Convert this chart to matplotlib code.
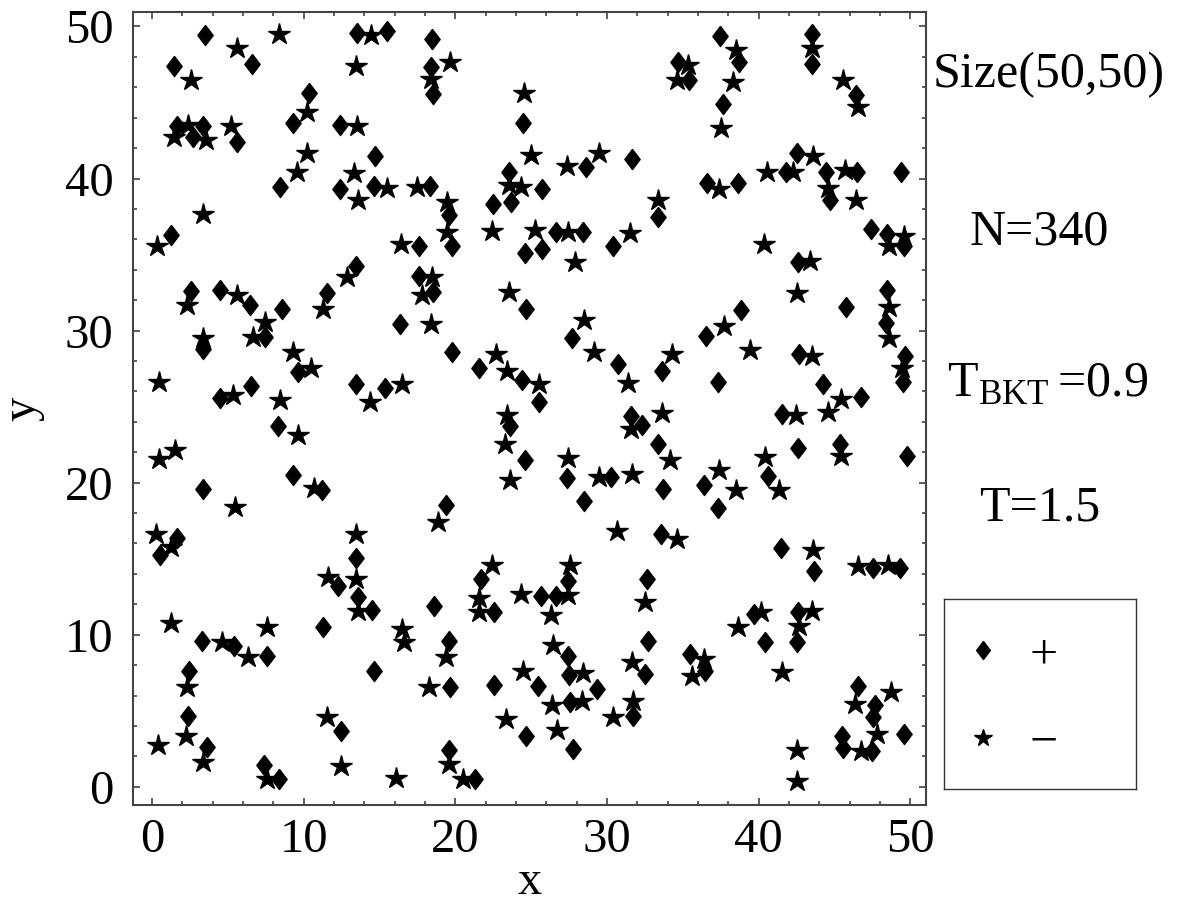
import numpy as np
import matplotlib
matplotlib.use("Agg")
import matplotlib.pyplot as plt
from matplotlib.ticker import MultipleLocator

plt.rcParams['font.family'] = ['Liberation Serif', 'DejaVu Serif']
plt.rcParams['mathtext.fontset'] = 'custom'
plt.rcParams['mathtext.rm'] = 'Liberation Serif'

# positive vortices (diamonds)
plus_x = [3.51, 1.43, 6.63, 10.39, 1.65, 3.36, 2.70, 5.60, 9.27, 12.41,
          14.72, 8.46, 12.41, 14.65, 1.25, 13.47, 13.51, 15.53, 18.46, 18.39,
          18.52, 24.50, 23.57, 28.63, 31.64, 18.35, 25.75, 22.52, 23.66, 19.62,
          19.78, 17.64, 26.65, 28.45, 24.61, 25.75, 30.43, 17.60, 33.35, 37.46,
          43.55, 43.55, 34.71, 35.44, 38.71, 37.68, 46.43, 42.52, 41.81, 44.43,
          46.51, 49.37, 44.71, 36.58, 38.67, 47.39, 48.49, 49.59, 42.58, 2.59,
          4.46, 6.48, 8.57, 3.36, 7.47, 11.54, 9.62, 6.53, 4.50, 8.31,
          9.29, 3.40, 11.20, 13.47, 15.38, 16.37, 18.52, 24.67, 19.78, 21.60,
          24.43, 25.55, 27.69, 30.72, 23.62, 24.61, 27.36, 30.26, 28.52, 19.40,
          31.58, 32.30, 48.49, 45.77, 48.41, 38.83, 36.54, 42.69, 49.66, 49.51,
          37.35, 44.27, 46.74, 41.57, 33.40, 42.58, 45.37, 49.81, 33.68, 36.41,
          40.65, 37.31, 33.55, 33.66, 1.65, 0.55, 13.47, 12.30, 13.58, 14.54,
          11.31, 3.30, 5.43, 7.58, 2.46, 14.67, 2.41, 12.48, 3.63, 7.42,
          8.39, 21.69, 22.58, 18.63, 19.60, 19.66, 22.57, 25.49, 24.67, 25.66,
          26.63, 27.42, 27.46, 27.53, 27.57, 29.37, 27.79, 32.67, 32.69, 32.52,
          31.71, 19.60, 21.31, 41.48, 43.68, 47.57, 49.33, 39.72, 40.43, 42.58,
          42.52, 35.49, 36.47, 46.54, 47.68, 47.53, 45.52, 45.59, 47.50, 49.59]
plus_y = [49.42, 47.40, 47.50, 45.59, 43.46, 43.46, 42.70, 42.43, 43.64, 43.52,
          41.45, 39.41, 39.30, 39.51, 36.29, 34.25, 49.60, 49.68, 49.20, 47.30,
          45.54, 43.62, 40.43, 40.76, 41.27, 39.51, 39.34, 38.31, 38.46, 37.59,
          35.53, 35.53, 36.49, 36.49, 35.09, 35.35, 35.53, 33.60, 37.50, 49.38,
          49.49, 47.51, 47.63, 46.48, 47.67, 44.88, 45.50, 41.66, 40.46, 40.46,
          40.43, 40.46, 38.59, 39.69, 39.69, 36.67, 36.34, 35.57, 34.48, 32.61,
          32.66, 31.67, 31.45, 28.82, 29.55, 32.50, 27.28, 26.33, 25.56, 23.73,
          20.49, 19.57, 19.53, 26.48, 26.21, 30.42, 32.55, 31.45, 28.56, 27.57,
          26.76, 25.31, 29.48, 27.79, 23.70, 21.50, 20.30, 20.38, 18.80, 18.52,
          24.39, 23.78, 32.68, 31.52, 30.47, 31.36, 29.65, 28.49, 28.30, 26.59,
          26.65, 26.48, 25.60, 24.50, 22.53, 22.31, 22.53, 21.72, 19.57, 19.84,
          20.41, 18.30, 16.61, 27.35, 16.35, 15.23, 15.04, 13.22, 12.45, 11.62,
          10.52, 9.60, 9.27, 8.57, 7.59, 7.59, 4.67, 3.64, 2.59, 1.45,
          0.51, 13.66, 11.47, 11.90, 9.56, 6.54, 6.71, 6.64, 3.31, 12.52,
          12.52, 13.54, 8.57, 7.36, 5.55, 6.42, 2.48, 13.66, 9.56, 7.41,
          4.67, 2.43, 0.51, 15.67, 14.20, 14.36, 14.36, 11.35, 9.53, 11.51,
          9.53, 8.72, 7.63, 6.64, 5.37, 4.56, 3.35, 2.52, 2.37, 3.46]

# negative vortices (stars)
minus_x = [5.60, 2.57, 8.39, 13.47, 14.44, 10.22, 2.41, 1.47, 3.58, 5.21,
           13.51, 10.22, 9.56, 13.34, 13.58, 15.49, 3.36, 0.33, 16.40, 12.85,
           19.66, 18.39, 24.54, 24.98, 27.36, 29.51, 17.51, 19.49, 19.49, 23.57,
           24.32, 22.41, 25.27, 27.46, 31.53, 27.90, 18.46, 33.35, 38.52, 43.55,
           35.37, 34.65, 38.30, 45.55, 46.58, 37.51, 43.57, 40.54, 42.29, 45.70,
           37.40, 44.56, 46.43, 40.38, 43.39, 48.62, 49.59, 2.31, 5.60, 7.47,
           6.66, 3.36, 11.31, 9.29, 10.50, 0.48, 5.34, 8.46, 9.62, 14.35,
           16.48, 1.54, 0.44, 10.72, 5.49, 0.28, 13.47, 17.80, 18.39, 23.57,
           28.52, 22.70, 23.44, 25.53, 29.18, 31.38, 23.44, 23.29, 27.46, 29.49,
           31.68, 23.62, 31.58, 33.62, 18.85, 30.65, 42.52, 48.62, 48.62, 37.73,
           34.28, 39.44, 43.51, 49.48, 45.44, 44.56, 42.45, 34.17, 37.40, 40.43,
           45.42, 38.52, 41.37, 34.60, 1.25, 11.60, 13.47, 13.62, 1.25, 7.62,
           4.61, 6.33, 2.31, 2.26, 0.37, 3.36, 11.54, 12.46, 7.58, 16.10,
           16.48, 16.59, 22.41, 27.57, 21.60, 21.60, 24.32, 27.46, 26.32, 32.52,
           19.40, 18.30, 26.47, 28.45, 24.50, 26.41, 28.38, 23.36, 26.74, 30.39,
           31.71, 31.64, 19.60, 20.50, 43.57, 46.58, 48.52, 38.63, 40.17, 43.55,
           42.69, 36.41, 35.60, 41.57, 48.72, 46.36, 47.79, 46.74, 42.52, 42.52]
minus_y = [48.61, 46.48, 49.49, 47.40, 49.42, 44.38, 43.52, 42.76, 42.52, 43.46,
           43.46, 41.66, 40.43, 40.35, 38.59, 39.36, 37.65, 35.53, 35.70, 33.50,
           47.66, 46.53, 45.61, 41.53, 40.79, 41.66, 39.45, 38.46, 36.49, 39.56,
           39.41, 36.56, 36.62, 36.45, 36.40, 34.54, 33.55, 38.60, 48.46, 48.55,
           47.45, 46.48, 46.35, 46.48, 44.67, 43.35, 41.49, 40.46, 40.46, 40.57,
           39.34, 39.36, 38.59, 35.68, 34.58, 35.53, 36.19, 31.67, 32.33, 30.57,
           29.59, 29.48, 31.45, 28.56, 27.53, 26.59, 25.75, 25.42, 23.14, 25.31,
           26.48, 22.14, 21.55, 19.64, 18.43, 16.61, 16.61, 32.33, 30.42, 32.55,
           30.70, 28.45, 27.35, 26.48, 28.60, 26.54, 24.46, 22.53, 21.65, 20.34,
           20.56, 20.16, 23.56, 24.57, 17.38, 16.80, 32.50, 31.52, 29.48, 30.31,
           28.45, 28.71, 28.34, 27.51, 25.49, 24.66, 24.46, 21.50, 20.82, 21.66,
           21.72, 19.53, 19.53, 16.30, 15.74, 13.77, 13.66, 11.57, 10.74, 10.52,
           9.49, 8.51, 6.54, 3.31, 2.74, 1.60, 4.56, 1.38, 0.51, 0.57,
           10.37, 9.49, 14.58, 14.58, 12.39, 11.51, 12.67, 12.60, 11.29, 12.16,
           8.55, 6.54, 9.34, 7.48, 7.63, 5.39, 5.61, 4.45, 3.75, 4.56,
           5.61, 8.22, 1.49, 0.51, 15.56, 14.49, 14.60, 10.52, 11.47, 11.57,
           10.59, 8.40, 7.30, 7.52, 6.21, 5.44, 3.46, 2.37, 2.43, 0.39]

side_texts = ['Size(50,50)', 'N=340', r'T$_{\mathrm{BKT}}\,$=0.9', 'T=1.5']
legend_labels = ['+', '\u2212']

diamond = [(0, 1), (0.76, 0), (0, -1), (-0.76, 0), (0, 1)]

fig = plt.figure(figsize=(11.82, 9.08), dpi=100)
ax = fig.add_axes([0.1125, 0.1134, 0.671, 0.8734])

ax.plot(plus_x, plus_y, ls='none', marker=diamond, ms=14.5, color='black', mec='black')
ax.plot(minus_x, minus_y, ls='none', marker='*', ms=16, color='black', mec='black')

ax.set_xlim(-1.25, 51.05)
ax.set_ylim(-1.2, 50.95)
ax.xaxis.set_major_locator(MultipleLocator(10))
ax.xaxis.set_minor_locator(MultipleLocator(2))
ax.yaxis.set_major_locator(MultipleLocator(10))
ax.yaxis.set_minor_locator(MultipleLocator(2))
ax.tick_params(which='both', direction='in', top=True, right=True, color='#333333')
ax.tick_params(which='major', length=5, width=1.1, labelsize=35)
ax.tick_params(axis='x', which='major', pad=9)
ax.tick_params(axis='y', which='major', pad=14)
ax.tick_params(which='minor', length=3, width=1.1)
for sp in ax.spines.values():
    sp.set_color('#444444')
    sp.set_linewidth(1.5)
ax.set_xlabel('x', fontsize=35, labelpad=-1)
ax.set_ylabel('y', fontsize=35, labelpad=15)

# text column on the right
ys = [75, 232, 385, 508]
xs = [1049, 1039, 1048, 1040]
for t, px, py in zip(side_texts, xs, ys):
    fig.text(px / 1182, 1 - py / 908, t, fontsize=36, ha='center', va='center')

# legend box
lax = fig.add_axes([944 / 1182, 1 - 789 / 908, 192 / 1182, 190 / 908])
lax.set_xlim(0, 1)
lax.set_ylim(0, 1)
lax.set_xticks([])
lax.set_yticks([])
for sp in lax.spines.values():
    sp.set_color('#333333')
    sp.set_linewidth(1.0)
lax.plot([0.203], [0.732], ls='none', marker=diamond, ms=13, color='black')
lax.plot([0.203], [0.266], ls='none', marker='*', ms=13, color='black')
lax.text(0.518, 0.70, legend_labels[0], fontsize=36, ha='center', va='center')
lax.text(0.518, 0.24, legend_labels[1], fontsize=36, ha='center', va='center')

fig.savefig('out.png', dpi=100)
